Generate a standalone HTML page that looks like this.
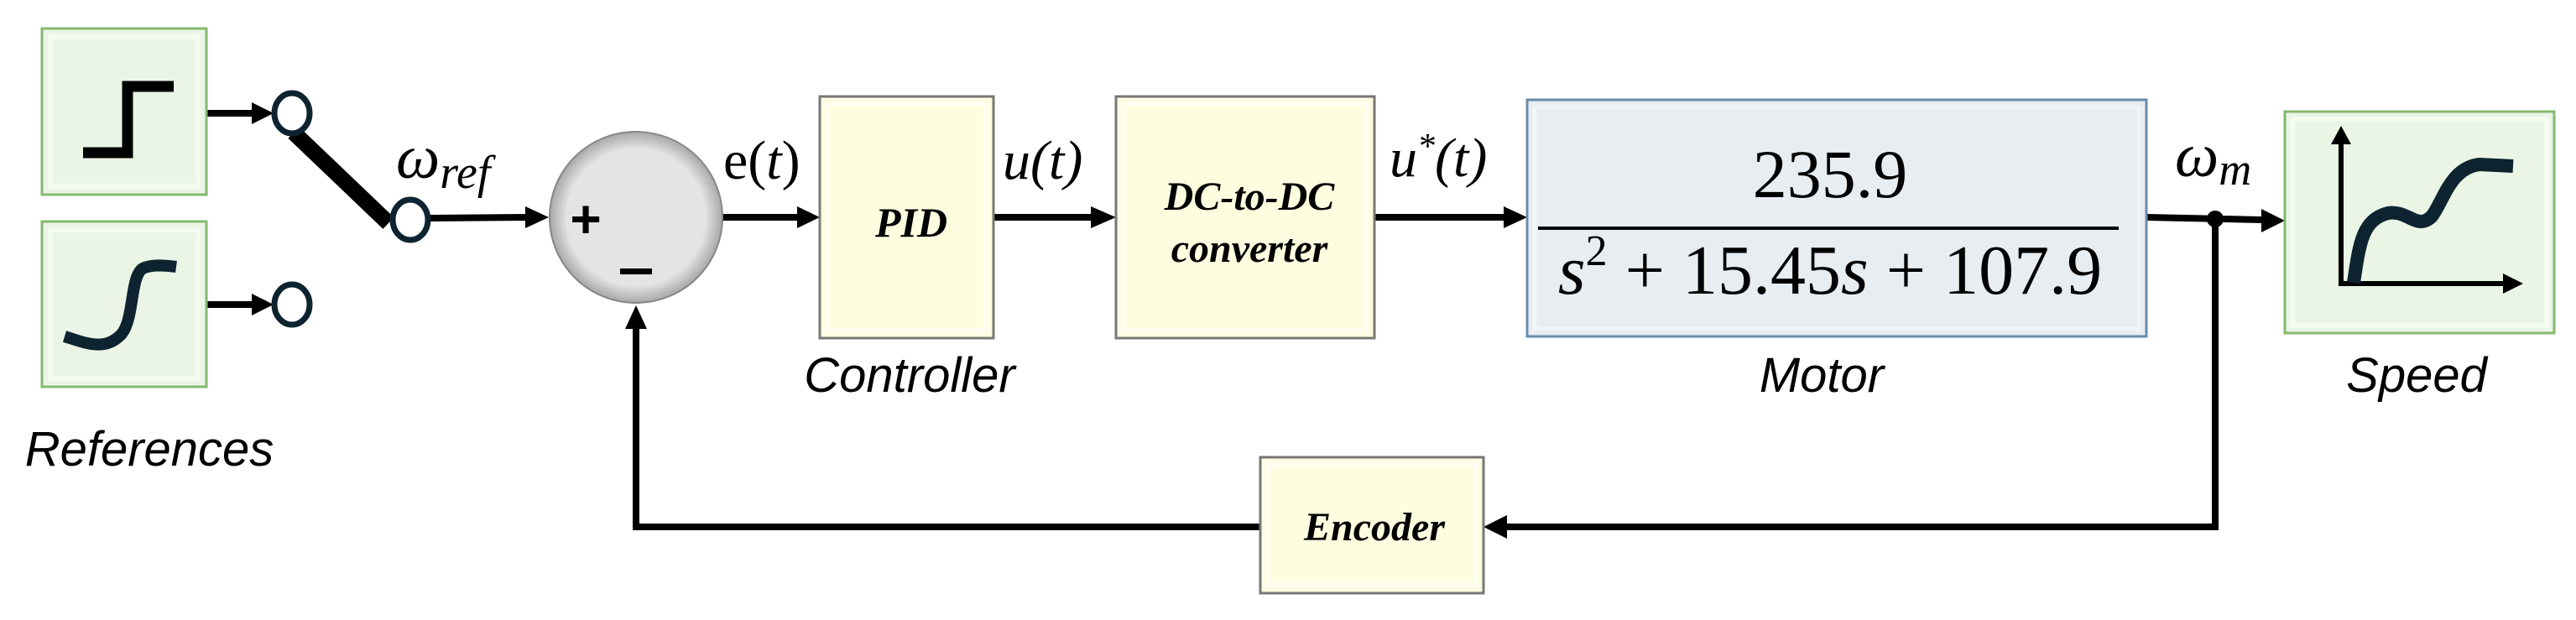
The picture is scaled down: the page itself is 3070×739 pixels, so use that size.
<!DOCTYPE html>
<html><head><meta charset="utf-8"><style>
html,body{margin:0;padding:0;background:#fff;}
svg{display:block;}
.m{font-family:"Liberation Serif",serif;font-style:italic;fill:#000;}
.n{font-family:"Liberation Serif",serif;fill:#000;}
.l{font-family:"Liberation Sans",sans-serif;font-style:italic;fill:#000;font-size:58px;}
.b{font-family:"Liberation Serif",serif;font-style:italic;font-weight:bold;fill:#000;}
</style></head><body>
<svg width="3070" height="739" viewBox="0 0 3070 739" xmlns="http://www.w3.org/2000/svg">
<defs>
<radialGradient id="sg" cx="50%" cy="50%" r="50%"><stop offset="0.8" stop-color="#e4e4e4"/><stop offset="1" stop-color="#a8a8a8"/></radialGradient>
</defs>
<g fill="none" stroke="#000" stroke-width="8">
<line x1="246" y1="135" x2="300" y2="135"/>
<line x1="246" y1="363" x2="300" y2="363"/>
<line x1="512" y1="260" x2="626" y2="259"/>
<line x1="861" y1="259" x2="950" y2="259"/>
<line x1="1184" y1="259" x2="1300" y2="259"/>
<line x1="1638" y1="259" x2="1792" y2="259"/>
<line x1="2558" y1="259" x2="2695" y2="262"/>
<polyline points="2640,262 2640,628 1796,628"/>
<polyline points="1502,628 758,628 758,392"/>
</g>
<g fill="#000">
<path d="M300,122 L326,135 L300,148z"/>
<path d="M300,350 L326,363 L300,376z"/>
<path d="M626,246 L654,259 L626,272z"/>
<path d="M950,246 L977,259 L950,272z"/>
<path d="M1300,246 L1330,259 L1300,272z"/>
<path d="M1792,246 L1820,259 L1792,272z"/>
<path d="M2695,249 L2723,263 L2695,277z"/>
<path d="M1796,614 L1768,628 L1796,642z"/>
<path d="M745,392 L758,364 L771,392z"/>
<circle cx="2640" cy="261" r="10"/>
</g>
<line x1="350" y1="158" x2="463" y2="266" stroke="#000" stroke-width="19"/>
<g fill="#fff" stroke="#0d2430" stroke-width="7">
<ellipse cx="348" cy="135" rx="21" ry="24"/>
<ellipse cx="348" cy="363" rx="21" ry="24"/>
<ellipse cx="489" cy="262" rx="21" ry="24"/>
</g>
<rect x="50" y="34" width="196" height="198" fill="#eaf5e6" stroke="#86b870" stroke-width="3"/>
<rect x="60" y="44" width="176" height="178" fill="none" stroke="#f4fbf1" stroke-width="6"/>
<rect x="50" y="264" width="196" height="197" fill="#eaf5e6" stroke="#86b870" stroke-width="3"/>
<rect x="60" y="274" width="176" height="177" fill="none" stroke="#f4fbf1" stroke-width="6"/>
<polyline points="99,182 152,182 152,103 207,103" fill="none" stroke="#000" stroke-width="13"/>
<path d="M77,401 C100,408 125,420 145,398 C160,380 155,330 170,320 C180,315 195,316 210,318" fill="none" stroke="#0d2430" stroke-width="14"/>
<ellipse cx="758" cy="259" rx="103" ry="102" fill="url(#sg)" stroke="#888" stroke-width="2"/>
<text x="698" y="283" font-size="64" font-weight="bold" text-anchor="middle" style="font-family:'Liberation Sans',sans-serif">+</text>
<rect x="739" y="320" width="38" height="7" fill="#000"/>
<rect x="977" y="115" width="207" height="288" fill="#fdfde0" stroke="#777" stroke-width="3"/>
<rect x="986" y="124" width="189" height="270" fill="none" stroke="#fefef0" stroke-width="6"/>
<text x="1086" y="282" class="b" font-size="50" text-anchor="middle">PID</text>
<rect x="1330" y="115" width="308" height="288" fill="#fdfde0" stroke="#777" stroke-width="3"/>
<rect x="1339" y="124" width="290" height="270" fill="none" stroke="#fefef0" stroke-width="6"/>
<text x="1489" y="250" class="b" font-size="48" text-anchor="middle">DC-to-DC</text>
<text x="1489" y="312" class="b" font-size="48" text-anchor="middle">converter</text>
<rect x="1820" y="119" width="738" height="282" fill="#e8edf2" stroke="#6a8cab" stroke-width="3"/>
<rect x="1829" y="128" width="720" height="264" fill="none" stroke="#f1f5f8" stroke-width="5"/>
<line x1="1833" y1="272" x2="2525" y2="272" stroke="#000" stroke-width="4"/>
<text x="2181" y="235" class="n" font-size="82" text-anchor="middle">235.9</text>
<text x="2181" y="350" class="n" font-size="84" text-anchor="middle"><tspan class="m">s</tspan><tspan font-size="52" dy="-34">2</tspan><tspan dy="34"> + 15.45</tspan><tspan class="m">s</tspan> + 107.9</text>
<rect x="2723" y="133" width="321" height="264" fill="#eaf5e6" stroke="#86b870" stroke-width="3"/>
<rect x="2732" y="142" width="303" height="246" fill="none" stroke="#f4fbf1" stroke-width="6"/>
<polyline points="2790,170 2790,338 2990,338" fill="none" stroke="#000" stroke-width="6"/>
<path d="M2778,172 L2790,150 L2802,172z" fill="#000"/>
<path d="M2983,326 L3007,338 L2983,350z" fill="#000"/>
<path d="M2805,337 C2812,290 2815,262 2846,254 C2870,250 2880,275 2898,258 C2912,240 2920,200 2955,196 L2995,198" fill="none" stroke="#0d2430" stroke-width="16"/>
<rect x="1502" y="545" width="266" height="162" fill="#fdfde0" stroke="#777" stroke-width="3"/>
<rect x="1511" y="554" width="248" height="144" fill="none" stroke="#fefef0" stroke-width="6"/>
<text x="1638" y="644" class="b" font-size="48" text-anchor="middle">Encoder</text>
<text x="472" y="212" class="m" font-size="74">ω<tspan font-size="56" dy="12">ref</tspan></text>
<text x="862" y="213" class="n" font-size="66">e(<tspan class="m">t</tspan>)</text>
<text x="1195" y="213" class="m" font-size="66">u<tspan class="n">(</tspan>t<tspan class="n">)</tspan></text>
<text x="1656" y="210" class="m" font-size="66">u<tspan class="n" font-size="42" dy="-22">*</tspan><tspan class="n" dy="22">(</tspan>t<tspan class="n">)</tspan></text>
<text x="2592" y="210" class="m" font-size="74">ω<tspan font-size="54" dy="10">m</tspan></text>
<text x="178" y="555" class="l" text-anchor="middle">References</text>
<text x="1084" y="467" class="l" text-anchor="middle">Controller</text>
<text x="2171" y="467" class="l" text-anchor="middle">Motor</text>
<text x="2880" y="467" class="l" text-anchor="middle">Speed</text>
</svg>
</body></html>
